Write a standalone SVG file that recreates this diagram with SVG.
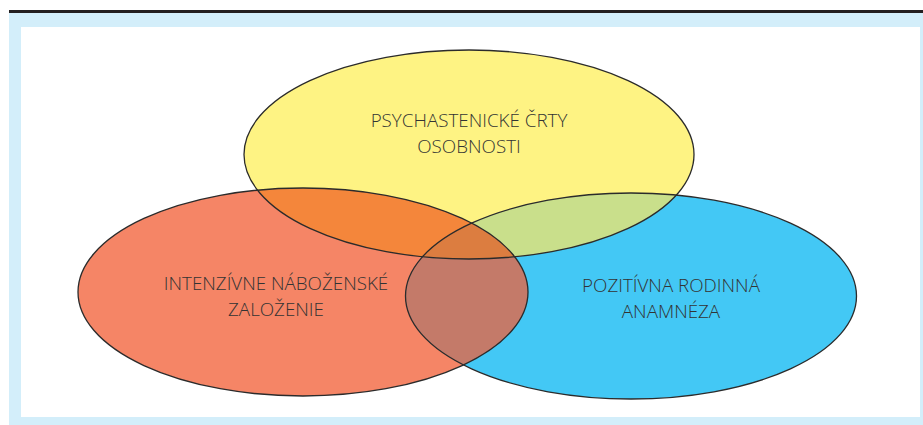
<svg xmlns="http://www.w3.org/2000/svg" width="923" height="425" viewBox="0 0 923 425">
<style>
.lbl{font-family:"Open Sans","Liberation Sans",sans-serif;font-size:18.8px;font-weight:300;fill:#333333;text-anchor:middle}
.edge{fill:none;stroke:#2b2b2b;stroke-width:1.3}
</style>
<defs>
<ellipse id="eY" cx="469" cy="154.5" rx="225" ry="104.5"/>
<ellipse id="eR" cx="303" cy="292" rx="225" ry="104"/>
<ellipse id="eB" cx="631" cy="296" rx="225.5" ry="103"/>
<clipPath id="cY"><use href="#eY"/></clipPath>
<clipPath id="cB"><use href="#eB"/></clipPath>
</defs>
<rect x="0" y="0" width="923" height="425" fill="#ffffff"/>
<rect x="9" y="10" width="914" height="3" fill="#231f20"/>
<rect x="9" y="13" width="914" height="412" fill="#d3eefa"/>
<rect x="21" y="27" width="899" height="390" fill="#ffffff"/>
<g id="set-psych"><use href="#eY" fill="#fef383"/></g>
<g id="set-relig"><use href="#eR" fill="#f58566"/></g>
<g id="set-family"><use href="#eB" fill="#43c8f5"/></g>
<g id="overlaps">
<use href="#eR" fill="#f4863b" clip-path="url(#cY)"/>
<use href="#eB" fill="#c9df8b" clip-path="url(#cY)"/>
<use href="#eR" fill="#c47a69" clip-path="url(#cB)"/>
<g clip-path="url(#cY)"><use href="#eR" fill="#dc7d40" clip-path="url(#cB)"/></g>
</g>
<g id="outlines">
<use href="#eY" class="edge"/>
<use href="#eR" class="edge"/>
<use href="#eB" class="edge"/>
</g>
<g id="labels">
<text class="lbl" x="469" y="127">PSYCHASTENICKÉ ČRTY</text>
<text class="lbl" x="469" y="152.5">OSOBNOSTI</text>
<text class="lbl" x="276" y="290">INTENZÍVNE NÁBOŽENSKÉ</text>
<text class="lbl" x="276" y="315.5">ZALOŽENIE</text>
<text class="lbl" x="671" y="292">POZITÍVNA RODINNÁ</text>
<text class="lbl" x="671" y="317.5">ANAMNÉZA</text>
</g>
</svg>
